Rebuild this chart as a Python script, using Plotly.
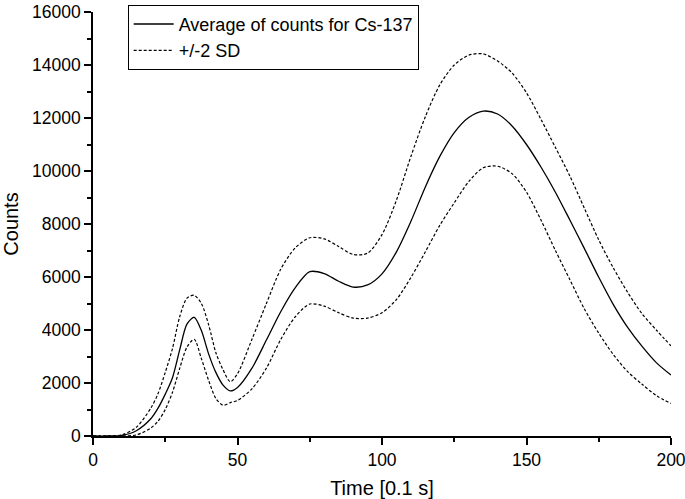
import plotly.graph_objects as go

time = [0, 5, 10, 15, 20, 22.5, 25, 27.5, 30, 32.5, 35, 37.5, 40, 42.5, 45, 47.5, 50, 55, 60,
        65, 70, 75, 80, 85, 90, 95, 100, 105, 110, 115, 120, 125, 130, 135, 140, 145, 150,
        155, 160, 165, 170, 175, 180, 185, 190, 195, 200]

mean_counts = [0, 0, 25, 200, 650, 1050, 1580, 2200, 3250, 4220, 4480, 3980, 3100, 2400, 1920,
               1700, 1830, 2560, 3620, 4700, 5600, 6200, 6130, 5840, 5620, 5700, 6120, 6950,
               8100, 9400, 10550, 11450, 12020, 12260, 12150, 11700, 11000, 10150, 9200, 8150,
               7080, 5990, 4970, 4100, 3380, 2760, 2300]

upper_counts = [0, 0, 40, 330, 1050, 1600, 2400, 3300, 4500, 5200, 5310, 5000, 4200, 3150,
                2500, 2050, 2350, 3650, 5000, 6300, 7100, 7480, 7440, 7150, 6850, 6900, 7600,
                8900, 10550, 12050, 13250, 14000, 14370, 14420, 14150, 13700, 12950, 11950,
                10890, 9810, 8600, 7400, 6350, 5420, 4610, 3990, 3400]

lower_counts = [0, 0, 5, 40, 300, 560, 1000, 1650, 2550, 3350, 3650, 2920, 2100, 1420, 1160,
                1260, 1340, 1780, 2560, 3650, 4500, 4980, 4900, 4650, 4450, 4450, 4650, 5150,
                5980, 6950, 7950, 8800, 9600, 10120, 10180, 9900, 9200, 8150, 7000, 5900, 4800,
                3880, 3080, 2430, 1950, 1520, 1230]

FONT = "Liberation Sans, Arial, sans-serif"

fig = go.Figure()
fig.add_trace(go.Scatter(x=time, y=mean_counts, mode="lines", name="Average of counts for Cs-137",
                         line=dict(color="black", width=1.3, shape="spline", smoothing=0.8)))
fig.add_trace(go.Scatter(x=time, y=upper_counts, mode="lines", name="+/-2 SD", legendgroup="sd",
                         line=dict(color="black", width=1.2, dash="3px,2px", shape="spline", smoothing=0.8)))
fig.add_trace(go.Scatter(x=time, y=lower_counts, mode="lines", name="+/-2 SD", legendgroup="sd",
                         showlegend=False,
                         line=dict(color="black", width=1.2, dash="3px,2px", shape="spline", smoothing=0.8)))

fig.update_layout(
    width=685, height=499,
    margin=dict(l=93, r=14, t=12, b=63, autoexpand=False),
    paper_bgcolor="white", plot_bgcolor="white",
    font=dict(family=FONT, size=17.5, color="black"),
    showlegend=True,
    legend=dict(x=0.06, y=1.017, xanchor="left", yanchor="top",
                bordercolor="black", borderwidth=1, bgcolor="white",
                font=dict(family=FONT, size=18), tracegroupgap=0,
                itemwidth=40),
)

fig.update_xaxes(
    range=[0, 200], tickvals=[0, 50, 100, 150, 200], ticktext=["0", "50", "100", "150", "200"],
    showline=True, linecolor="black", linewidth=1.5,
    ticks="outside", ticklen=7, tickwidth=1.5, tickcolor="black",
    minor=dict(tickvals=[25, 75, 125, 175], ticks="outside", ticklen=4, tickwidth=1.5, tickcolor="black"),
    showgrid=False, zeroline=False, mirror=False, automargin=False,
    ticklabeloverflow="allow",
    title=dict(text="Time [0.1 s]", font=dict(family=FONT, size=20), standoff=14),
    tickfont=dict(family=FONT, size=17.5),
)
fig.update_yaxes(
    range=[0, 16000], tickvals=[0, 2000, 4000, 6000, 8000, 10000, 12000, 14000, 16000],
    ticktext=["0", "2000", "4000", "6000", "8000", "10000", "12000", "14000", "16000"],
    showline=True, linecolor="black", linewidth=1.5,
    ticks="outside", ticklen=7, tickwidth=1.5, tickcolor="black",
    minor=dict(tickvals=[1000, 3000, 5000, 7000, 9000, 11000, 13000, 15000], ticks="outside",
               ticklen=4, tickwidth=1.5, tickcolor="black"),
    showgrid=False, zeroline=False, mirror=False, automargin=False,
    ticklabeloverflow="allow",
    title=dict(text="Counts", font=dict(family=FONT, size=20), standoff=10),
    tickfont=dict(family=FONT, size=17.5),
)

fig.write_html("out.html", config={"displayModeBar": False},
               post_script="document.body.style.margin='0';document.body.style.overflow='hidden';")
